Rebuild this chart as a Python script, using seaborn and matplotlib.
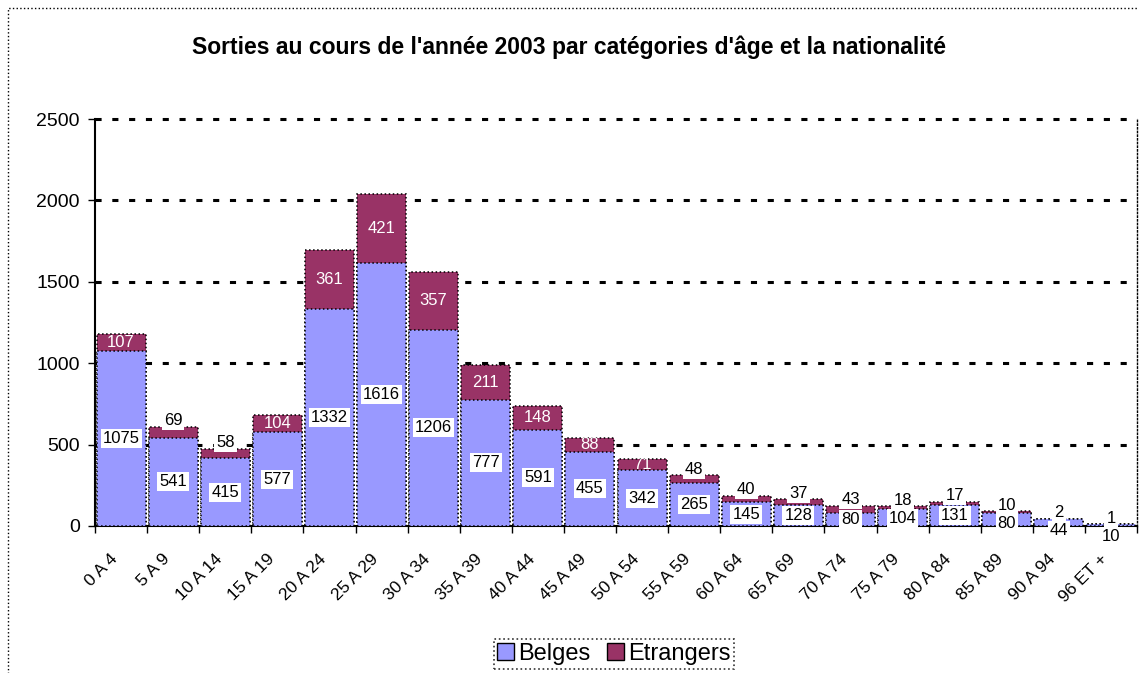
import numpy as np
import pandas as pd
import seaborn as sns
import matplotlib
matplotlib.use("Agg")
from matplotlib import pyplot as plt
from matplotlib.patches import Patch, Rectangle
from matplotlib.transforms import ScaledTranslation

# data
age_groups = ["0 A 4", "5 A 9", "10 A 14", "15 A 19", "20 A 24", "25 A 29",
              "30 A 34", "35 A 39", "40 A 44", "45 A 49", "50 A 54", "55 A 59",
              "60 A 64", "65 A 69", "70 A 74", "75 A 79", "80 A 84", "85 A 89",
              "90 A 94", "96 ET +"]
belges = [1075, 541, 415, 577, 1332, 1616, 1206, 777, 591, 455, 342, 265,
          145, 128, 80, 104, 131, 80, 44, 10]
etrangers = [107, 69, 58, 104, 361, 421, 357, 211, 148, 88, 71, 48,
             40, 37, 43, 18, 17, 10, 2, 1]

title = "Sorties au cours de l'année 2003 par catégories d'âge et la nationalité"

BLUE = "#9999FF"
MAROON = "#993366"

sns.set_style("white")
plt.rcParams["font.family"] = ["Liberation Sans", "DejaVu Sans"]
plt.rcParams["text.color"] = "black"
plt.rcParams["xtick.color"] = "black"
plt.rcParams["ytick.color"] = "black"

df = pd.DataFrame({"age": age_groups, "Belges": belges, "Etrangers": etrangers})
df["total"] = df["Belges"] + df["Etrangers"]

fig = plt.figure(figsize=(11.39, 6.73), dpi=100)
ax = fig.add_axes([95 / 1139, 1 - 526 / 673, (1137 - 95) / 1139, (526 - 119) / 673])

bar_kw = dict(width=0.94, edgecolor="black", linewidth=1.1, linestyle=":",
              saturation=1, errorbar=None, ax=ax)
# stacked: totals first (etrangers on top), then belges over the lower part
sns.barplot(data=df, x="age", y="total", color=MAROON, zorder=2, **bar_kw)
sns.barplot(data=df, x="age", y="Belges", color=BLUE, zorder=3, **bar_kw)

ymax = 2500
ax.set_ylim(0, ymax)
ax.set_xlim(-0.5, len(age_groups) - 0.5)
ax.set_yticks(np.arange(0, ymax + 1, 500))
ax.set_xlabel("")
ax.set_ylabel("")

# dotted horizontal grid
for yv in np.arange(500, ymax + 1, 500):
    ax.axhline(yv, color="black", linestyle=(0, (2, 3.5)), linewidth=2.2, zorder=1,
               clip_on=False)

ax.spines["top"].set_visible(False)
ax.spines["right"].set_linestyle(":")
ax.spines["right"].set_linewidth(1)
ax.spines["left"].set_linewidth(1.5)
ax.spines["bottom"].set_linewidth(1.5)
for s in ax.spines.values():
    s.set_color("black")

ax.tick_params(axis="y", left=True, length=5, width=1, labelsize=14, pad=6)
ax.set_xticks(np.arange(-0.5, len(age_groups), 1), minor=True)
ax.tick_params(axis="x", which="minor", bottom=True, length=5, width=1)
ax.tick_params(axis="x", which="major", bottom=False, length=0, pad=22)
ax.set_xticks(range(len(age_groups)))
ax.set_xticklabels(age_groups, fontsize=12.5, rotation=45, ha="right",
                   va="center", rotation_mode="anchor")
shift = ScaledTranslation(-4 / 72, 0, fig.dpi_scale_trans)
for lbl in ax.get_xticklabels():
    lbl.set_transform(lbl.get_transform() + shift)

# data labels
px_per_unit = ax.get_position().height * fig.get_figheight() * fig.dpi / ymax
pt_per_px = 72 / fig.dpi
box = dict(boxstyle="square,pad=0.12", facecolor="white", edgecolor="none")
for i, row in df.iterrows():
    b, e, t = row["Belges"], row["Etrangers"], row["total"]
    if e >= 70:
        etr_px = (b + e / 2) * px_per_unit
        ax.annotate(str(e), (i, b + e / 2), ha="center", va="center",
                    fontsize=12, color="white", zorder=5)
    else:
        etr_px = t * px_per_unit + 6
        ax.annotate(str(e), (i, t), xytext=(0, 6 * pt_per_px),
                    textcoords="offset points", ha="center", va="center",
                    fontsize=12, color="black", bbox=box, zorder=5)
    bel_px = b / 2 * px_per_unit
    dy = 0
    if etr_px - bel_px < 18:
        dy = (etr_px - 18) - bel_px
    ax.annotate(str(b), (i, b / 2), xytext=(0, dy * pt_per_px),
                textcoords="offset points", ha="center", va="center",
                fontsize=12, color="black", bbox=box, zorder=5,
                annotation_clip=False)

fig.text(0.5, 1 - 47 / 673, title, ha="center", va="center",
         fontsize=16.5, fontweight="bold")

handles = [Patch(facecolor=BLUE, edgecolor="black", label="Belges"),
           Patch(facecolor=MAROON, edgecolor="black", label="Etrangers")]
leg = fig.legend(handles=handles, loc="center", ncol=2,
                 bbox_to_anchor=(614 / 1139, 1 - 654 / 673), fontsize=17,
                 frameon=True, fancybox=False, handlelength=0.7,
                 handleheight=0.7, handletextpad=0.2, columnspacing=0.7,
                 borderpad=0.15, borderaxespad=0)
leg.get_frame().set_edgecolor("black")
leg.get_frame().set_linestyle(":")
leg.get_frame().set_linewidth(1.2)

# dotted outer chart border
fig.patches.append(Rectangle((8 / 1139, -0.1), 1.2, 1 - 8 / 673 + 0.1,
                             transform=fig.transFigure, fill=False,
                             edgecolor="black", linestyle=":", linewidth=1))

fig.savefig("out.png", dpi=100)
